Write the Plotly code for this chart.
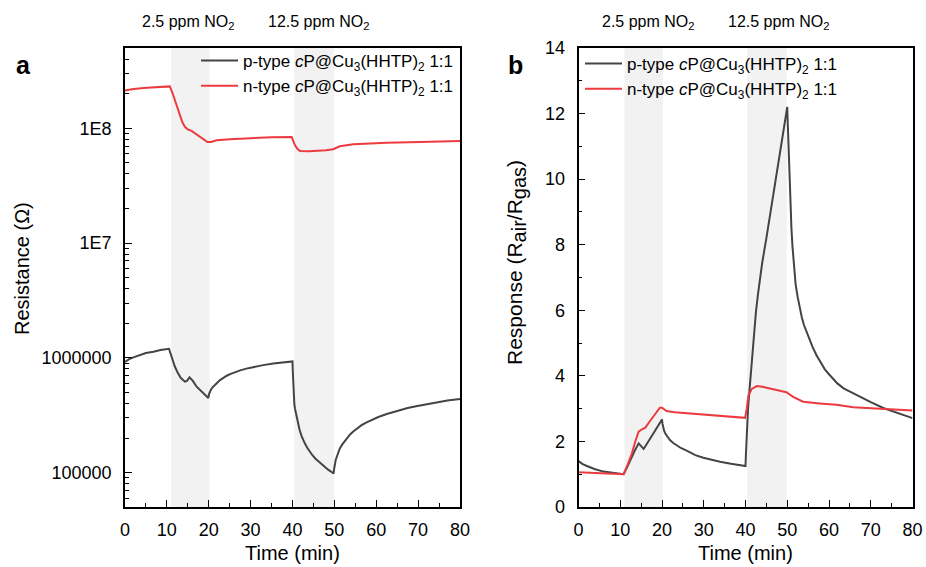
import plotly.graph_objects as go

# ---------------- data ----------------
# Panel a: resistance (ohm) vs time (min)
t_p_res = [0, 0.5, 1, 2, 3.6, 5, 6.8, 8.5, 10.5, 11.2, 11.9, 12.6, 13.3, 14.3, 14.8, 15.4, 16.2, 17.1,
           18.5, 19.9, 20.05, 20.2, 20.5, 20.8, 21.2, 21.9, 22.7, 23.5, 24.3, 25.1, 26.3, 27.5, 29, 30.6,
           33, 35.4, 37.5, 39.8, 40.0, 40.08, 40.15, 40.22, 40.3, 40.45, 40.6, 40.9, 41.3, 41.7, 42.2,
           42.6, 43, 43.6, 44.2, 44.8, 45.5, 46.2, 47, 47.7, 48.5, 49.2, 49.8, 49.95, 50.1, 50.3, 50.6,
           50.9, 51.3, 51.9, 52.5, 53.1, 53.7, 54.5, 55.5, 56.5, 57.7, 59, 60.5, 62.5, 64, 65.7, 67.5,
           69.5, 71.5, 73.6, 75.5, 77, 80]
r_p_res = [9.2e5, 9.5e5, 9.75e5, 1.01e6, 1.06e6, 1.1e6, 1.13e6, 1.17e6, 1.2e6, 1.0e6, 8.4e5, 7.4e5,
           6.7e5, 6.2e5, 6.3e5, 6.75e5, 6.3e5, 5.6e5, 5.0e5, 4.46e5, 4.8e5, 5.0e5, 5.25e5, 5.48e5,
           5.7e5, 6.0e5, 6.4e5, 6.71e5, 6.98e5, 7.21e5, 7.51e5, 7.77e5, 8.05e5, 8.3e5, 8.64e5, 8.93e5,
           9.16e5, 9.39e5, 9.3e5, 7.5e5, 6.0e5, 5.0e5, 4.3e5, 3.9e5, 3.6e5, 3.2e5, 2.7e5, 2.35e5, 2.07e5,
           1.9e5, 1.78e5, 1.63e5, 1.5e5, 1.41e5, 1.32e5, 1.25e5, 1.17e5, 1.11e5, 1.06e5, 1.02e5, 9.8e4,
           1.08e5, 1.18e5, 1.28e5, 1.38e5, 1.5e5, 1.62e5, 1.76e5, 1.88e5, 2.02e5, 2.14e5, 2.28e5,
           2.45e5, 2.59e5, 2.74e5, 2.89e5, 3.05e5, 3.24e5, 3.37e5, 3.51e5, 3.65e5, 3.79e5, 3.92e5,
           4.05e5, 4.16e5, 4.24e5, 4.37e5]

t_n_res = [0, 2, 5.2, 8, 10.7, 11.3, 11.9, 12.5, 13.1, 13.7, 14.3, 15, 15.9, 17, 17.9, 19.7, 20.5, 21.9,
           25, 30.6, 35, 39.8, 40.2, 40.6, 41.2, 41.8, 44, 46.4, 48, 49.7, 51.3, 54.5, 58, 62.5, 70.4, 75, 80]
r_n_res = [2.14e8, 2.2e8, 2.26e8, 2.28e8, 2.32e8, 2.05e8, 1.75e8, 1.5e8, 1.3e8, 1.13e8, 1.03e8, 9.8e7,
           9.5e7, 8.9e7, 8.4e7, 7.6e7, 7.6e7, 7.87e7, 8.05e7, 8.25e7, 8.35e7, 8.4e7, 7.7e7, 7.1e7, 6.6e7,
           6.35e7, 6.3e7, 6.35e7, 6.45e7, 6.57e7, 6.97e7, 7.26e7, 7.4e7, 7.5e7, 7.6e7, 7.7e7, 7.75e7]

# Panel b: response (Rair/Rgas) vs time (min)
t_p_resp = [0, 0.5, 1, 2, 2.8, 4, 6, 8.5, 10.8, 11.6, 12.4, 13.4, 14.4, 15, 15.6, 16.5, 17.5, 18.5, 19.4,
            20, 20.1, 20.25, 20.5, 20.8, 21.2, 21.9, 22.7, 23.5, 24.5, 25.9, 27, 28, 29.9, 32, 33.9, 36.5,
            39.5, 40, 40.1, 40.2, 40.3, 40.45, 40.6, 40.8, 41.0, 41.25, 41.5, 41.75, 42, 42.5, 43, 43.5,
            44, 45, 46, 47, 48, 49, 50, 50.15, 50.3, 50.45, 50.6, 50.8, 51, 51.25, 51.5, 51.75, 52, 52.5,
            53, 53.5, 54, 55, 56, 57, 58, 59, 60, 61, 62, 63.5, 65, 67.5, 70, 73, 76, 80]
s_p_resp = [1.4, 1.35, 1.31, 1.25, 1.21, 1.15, 1.08, 1.03, 1.0, 1.2, 1.43, 1.7, 1.94, 1.85, 1.77, 1.95,
            2.15, 2.35, 2.55, 2.67, 2.55, 2.45, 2.33, 2.24, 2.16, 2.04, 1.95, 1.88, 1.8, 1.72, 1.64, 1.58,
            1.5, 1.43, 1.38, 1.32, 1.26, 1.25, 1.6, 1.95, 2.25, 2.65, 3.0, 3.32, 3.62, 4.05, 4.5, 4.9, 5.3,
            5.95, 6.5, 7.0, 7.45, 8.2, 9.0, 9.8, 10.6, 11.4, 12.2, 11.6, 11.0, 10.3, 9.7, 9.05, 8.5, 7.95,
            7.5, 7.12, 6.8, 6.4, 6.05, 5.78, 5.55, 5.2, 4.9, 4.63, 4.4, 4.2, 4.05, 3.9, 3.77, 3.62, 3.52,
            3.35, 3.2, 3.02, 2.88, 2.71]

t_n_resp = [0, 3, 6, 9, 10.8, 11.8, 12.8, 13.6, 14.4, 15.2, 16, 17, 17.9, 19.5, 20, 21.1, 23, 25.9, 30,
            33.9, 37, 39.9, 40.3, 40.7, 41.5, 42.7, 44, 45.9, 48, 49.8, 51.4, 53.8, 57.8, 61.8, 65.8, 70,
            73.8, 80]
s_n_resp = [1.06, 1.04, 1.02, 1.0, 1.0, 1.3, 1.64, 2.0, 2.3, 2.37, 2.42, 2.6, 2.75, 3.03, 3.03, 2.93,
            2.89, 2.86, 2.81, 2.78, 2.76, 2.72, 3.0, 3.41, 3.6, 3.69, 3.67, 3.62, 3.56, 3.5, 3.36, 3.21,
            3.16, 3.12, 3.04, 3.01, 2.98, 2.94]

gas_windows = [(11, 20.2), (40.4, 49.9)]
gas_labels = ["2.5 ppm NO<sub>2</sub>", "12.5 ppm NO<sub>2</sub>"]
res_tickvals = [1e5, 1e6, 1e7, 1e8]
res_ticktext = ["100000", "1000000", "1E7", "1E8"]
series_names = ["p-type <i>c</i>P@Cu<sub>3</sub>(HHTP)<sub>2</sub> 1:1",
                "n-type <i>c</i>P@Cu<sub>3</sub>(HHTP)<sub>2</sub> 1:1"]

# ---------------- style ----------------
W, H = 926, 567
FONT = "Liberation Sans, Arial, sans-serif"
BLACK = "#444444"
RED = "#ec3a3f"
SHADE = "#f2f2f2"

def px_x(p):
    return p / W

def px_y(p):
    return 1 - p / H

fig = go.Figure()
fig.add_trace(go.Scatter(x=t_p_res, y=r_p_res, mode="lines", line=dict(color=BLACK, width=2),
                         name=series_names[0], xaxis="x", yaxis="y", legend="legend"))
fig.add_trace(go.Scatter(x=t_n_res, y=r_n_res, mode="lines", line=dict(color=RED, width=2),
                         name=series_names[1], xaxis="x", yaxis="y", legend="legend"))
fig.add_trace(go.Scatter(x=t_p_resp, y=s_p_resp, mode="lines", line=dict(color=BLACK, width=2),
                         name=series_names[0], xaxis="x2", yaxis="y2", legend="legend2"))
fig.add_trace(go.Scatter(x=t_n_resp, y=s_n_resp, mode="lines", line=dict(color=RED, width=2),
                         name=series_names[1], xaxis="x2", yaxis="y2", legend="legend2"))

for xr in ["x", "x2"]:
    for (a, b) in gas_windows:
        fig.add_shape(type="rect", xref=xr, yref=("y domain" if xr == "x" else "y2 domain"),
                      x0=a, x1=b, y0=0, y1=1, fillcolor=SHADE, line=dict(width=0), layer="below")

ydom = [px_y(507), px_y(48)]
common_x = dict(range=[0, 80], dtick=10, tick0=0, ticks="inside", ticklen=7, tickwidth=1.3,
                tickcolor="black", showline=True, linecolor="black", linewidth=1.6, mirror=True,
                showgrid=False, zeroline=False, ticklabelstandoff=6, automargin=False,
                tickfont=dict(family=FONT, size=18, color="black"),
                minor=dict(dtick=5, ticks="inside", ticklen=4, tickwidth=1.3, tickcolor="black"))

minor_log = [m * 10 ** e for e in range(4, 9) for m in range(2, 10)]

fig.update_layout(
    width=W, height=H, margin=dict(l=0, r=0, t=0, b=0, pad=0, autoexpand=False),
    paper_bgcolor="white", plot_bgcolor="white",
    font=dict(family=FONT, color="black"),
    xaxis=dict(domain=[px_x(125), px_x(460)], anchor="y", **common_x),
    xaxis2=dict(domain=[px_x(578.5), px_x(912.5)], anchor="y2", **common_x),
    yaxis=dict(domain=ydom, anchor="x", type="log", range=[4.7, 8.7], tickmode="array",
               tickvals=res_tickvals, ticktext=res_ticktext, ticks="inside", ticklen=7, tickwidth=1.3,
               tickcolor="black", showline=True, linecolor="black", linewidth=1.6, mirror=True,
               showgrid=False, zeroline=False, ticklabelstandoff=8, automargin=False,
               tickfont=dict(family=FONT, size=18, color="black"),
               minor=dict(tickmode="array", tickvals=minor_log, ticks="inside", ticklen=4,
                          tickwidth=1.3, tickcolor="black")),
    yaxis2=dict(domain=ydom, anchor="x2", range=[0, 14], dtick=2, tick0=0, ticks="inside", ticklen=7,
                tickwidth=1.3, tickcolor="black", showline=True, linecolor="black", linewidth=1.6,
                mirror=True, showgrid=False, zeroline=False, ticklabelstandoff=8, automargin=False,
                tickfont=dict(family=FONT, size=18, color="black"),
                minor=dict(dtick=1, ticks="inside", ticklen=4, tickwidth=1.3, tickcolor="black")),
    legend=dict(x=px_x(196), y=px_y(43), xanchor="left", yanchor="top", bgcolor="rgba(0,0,0,0)",
                font=dict(family=FONT, size=17, color="black"), tracegroupgap=0, itemwidth=37),
    legend2=dict(x=px_x(580), y=px_y(46), xanchor="left", yanchor="top", bgcolor="rgba(0,0,0,0)",
                 font=dict(family=FONT, size=17, color="black"), tracegroupgap=0, itemwidth=37),
    showlegend=True,
)

resp_title = ("Response (R<sub><span style='font-size:20px'>air</span></sub>/"
              "R<sub><span style='font-size:20px'>gas</span></sub>)")

ann = []
ann.append(dict(text="<b>a</b>", x=px_x(23), y=px_y(65), font=dict(size=25)))
ann.append(dict(text="<b>b</b>", x=px_x(515), y=px_y(65), font=dict(size=25)))
for cx, lab in zip([188, 318, 648, 778], gas_labels * 2):
    ann.append(dict(text=lab, x=px_x(cx), y=px_y(22), font=dict(size=16)))
ann.append(dict(text="Time (min)", x=px_x(292.5), y=px_y(553), font=dict(size=20)))
ann.append(dict(text="Time (min)", x=px_x(745.5), y=px_y(553), font=dict(size=20)))
ann.append(dict(text="Resistance (Ω)", x=px_x(22), y=px_y(269), textangle=-90, font=dict(size=20)))
ann.append(dict(text=resp_title, x=px_x(516), y=px_y(263), textangle=-90, font=dict(size=21)))
for a in ann:
    a.update(xref="paper", yref="paper", showarrow=False, xanchor="center", yanchor="middle")
    a["font"].update(family=FONT, color="black")
fig.update_layout(annotations=ann)

fig.write_html("out.html")
